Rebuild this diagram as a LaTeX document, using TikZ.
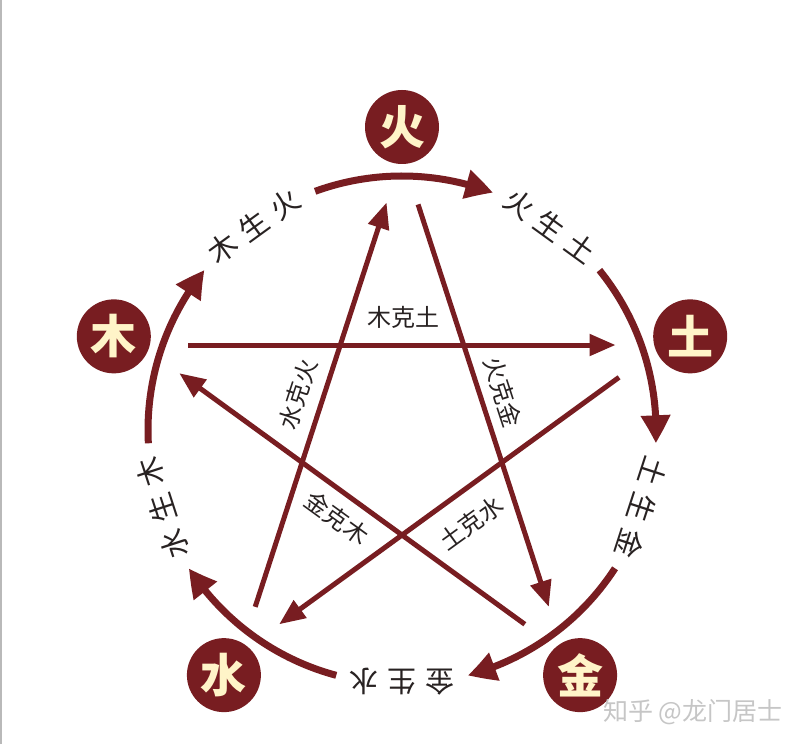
\documentclass[tikz,border=0pt]{standalone}
\usepackage{fontspec}
\newfontfamily\cjk{Noto Sans CJK SC}
\usetikzlibrary{arrows.meta,bending,calc}
\definecolor{maroon}{RGB}{120,29,33}
\definecolor{cream}{RGB}{255,244,200}
\definecolor{ink}{RGB}{40,34,34}
\begin{document}
\begin{tikzpicture}[x=1pt,y=1pt,
  elem/.style={circle,fill=maroon,minimum size=74pt,inner sep=0pt,text=cream,
    font=\cjk\bfseries\fontsize{46}{46}\selectfont},
  sheng/.style={text=ink,inner sep=0pt,font=\cjk\fontsize{29}{29}\selectfont},
  ke/.style={text=ink,inner sep=0pt,font=\cjk\fontsize{24}{24}\selectfont},
  ring/.style={draw=maroon,line width=7pt,-{Triangle[length=28pt,width=28pt,bend]}},
  starline/.style={draw=maroon,line width=5pt,-{Triangle[length=26pt,width=21pt]}},
  wm/.style={text=gray!45,inner sep=0pt,font=\cjk\fontsize{25}{25}\selectfont}]
\useasboundingbox (0,0) rectangle (800,744);
\fill[white] (0,0) rectangle (800,744);
\coordinate (L0) at (1,0);
\coordinate (L1) at (1,744);
\draw[gray!55,line width=1.5pt] (L0) -- (L1);
\coordinate (O) at (402,314);
% element nodes
\node[elem] (fire)  at ($(O)+(90:303)$)  {火};
\node[elem] (earth) at ($(O)+(18:303)$)  {土};
\node[elem] (metal) at ($(O)+(-54:303)$) {金};
\node[elem] (water) at ($(O)+(234:303)$) {水};
\node[elem] (wood)  at ($(O)+(162:303)$) {木};
% generating cycle arcs
\coordinate (a1) at ($(O)+(110:254)$);
\coordinate (a2) at ($(O)+(39:254)$);
\coordinate (a3) at ($(O)+(-33:254)$);
\coordinate (a4) at ($(O)+(-105:254)$);
\coordinate (a5) at ($(O)+(183:254)$);
\draw[ring] (a1) arc[start angle=110,end angle=69,radius=254];
\draw[ring] (a2) arc[start angle=39,end angle=-3,radius=254];
\draw[ring] (a3) arc[start angle=-33,end angle=-75,radius=254];
\draw[ring] (a4) arc[start angle=-105,end angle=-147,radius=254];
\draw[ring] (a5) arc[start angle=183,end angle=141,radius=254];
% generating labels
\node[sheng,rotate=36]   (s1) at ($(O)+(126:252)$) {木\hspace{9pt}生\hspace{9pt}火};
\node[sheng,rotate=-36]  (s2) at ($(O)+(54:252)$)  {火\hspace{9pt}生\hspace{9pt}土};
\node[sheng,rotate=-108] (s3) at ($(O)+(-18:252)$) {土\hspace{9pt}生\hspace{9pt}金};
\node[sheng,rotate=180]  (s4) at ($(O)+(-90:252)$) {金\hspace{9pt}生\hspace{9pt}水};
\node[sheng,rotate=108]  (s5) at ($(O)+(198:252)$) {水\hspace{9pt}生\hspace{9pt}木};
% star vertices
\coordinate (vF) at ($(O)+(90:275)$);
\coordinate (vT) at ($(O)+(18:275)$);
\coordinate (vJ) at ($(O)+(-54:275)$);
\coordinate (vS) at ($(O)+(234:275)$);
\coordinate (vM) at ($(O)+(162:275)$);
% controlling lines
\draw[starline] ($(vM)!48pt!(vT)$) -- ($(vT)!48pt!(vM)$);
\draw[starline] ($(vF)!52pt!(vJ)$) -- ($(vJ)!48pt!(vF)$);
\draw[starline] ($(vT)!55pt!(vS)$) -- ($(vS)!48pt!(vT)$);
\draw[starline] ($(vJ)!48pt!(vM)$) -- ($(vM)!48pt!(vJ)$);
\draw[starline] ($(vS)!48pt!(vF)$) -- ($(vF)!50pt!(vS)$);
% controlling labels
\node[ke] (k1) at (403,427) {木克土};
\node[ke,rotate=72]  (k2) at (298,350) {水克火};
\node[ke,rotate=-72] (k3) at (503,352) {火克金};
\node[ke,rotate=-36] (k4) at (337,226) {金克木};
\node[ke,rotate=36]  (k5) at (471,221) {土克水};
% watermark
\node[wm] (w) at (693,32) {知乎 @龙门居士};
\end{tikzpicture}
\end{document}
